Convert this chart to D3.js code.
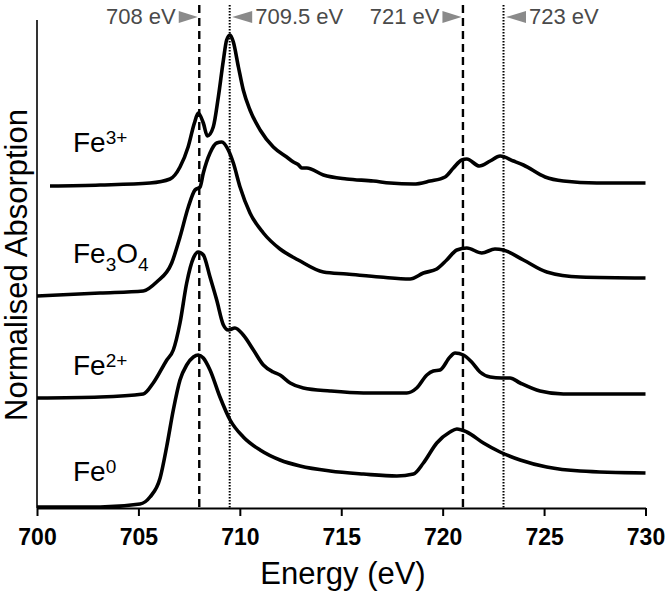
<!DOCTYPE html>
<html><head><meta charset="utf-8">
<script src="https://cdn.jsdelivr.net/npm/d3@7"></script>
<style>body{margin:0;background:#fff;} svg{display:block;font-family:"Liberation Sans",Arial,Helvetica,sans-serif;}</style>
</head><body><svg id="c" width="666" height="595"></svg>
<script>
// ---------- data ----------
const xTicks = [700, 705, 710, 715, 720, 725, 730];

const fe3Energy = [700.64,703.11,705.57,706.56,707.05,707.45,707.76,707.95,708.20,708.40,708.69,708.94,709.19,709.35,709.52,709.68,709.93,710.17,710.50,711.00,711.65,712.31,712.64,712.90,713.05,713.30,714.12,715.27,716.58,717.41,718.56,719.38,720.12,720.53,720.94,721.19,721.81,722.34,722.83,723.49,723.98,725.05,725.95,727.60,730.0];
const fe3Abs    = [3.22,3.23,3.25,3.29,3.41,3.61,3.85,3.95,3.85,3.72,3.81,4.11,4.48,4.68,4.73,4.66,4.41,4.18,3.98,3.78,3.61,3.51,3.46,3.43,3.40,3.40,3.33,3.29,3.27,3.25,3.24,3.27,3.31,3.40,3.48,3.49,3.42,3.47,3.52,3.47,3.43,3.31,3.27,3.25,3.25];

const fe3o4Energy = [700.0,703.11,705.24,705.90,706.64,707.05,707.46,707.79,708.04,708.20,708.53,708.86,709.11,709.43,709.68,710.01,710.50,711.16,711.98,712.88,714.12,715.27,716.91,718.39,719.05,719.71,720.20,720.70,721.19,721.93,722.58,722.99,723.98,725.13,726.78,730.0];
const fe3o4Abs    = [2.12,2.15,2.17,2.26,2.45,2.71,3.01,3.18,3.21,3.35,3.55,3.65,3.66,3.58,3.45,3.21,2.95,2.75,2.59,2.48,2.36,2.34,2.31,2.29,2.35,2.39,2.48,2.58,2.60,2.55,2.59,2.58,2.48,2.36,2.31,2.30];

const fe2Energy = [700.0,703.11,705.24,705.73,706.40,706.72,707.05,707.38,707.71,707.95,708.20,708.53,708.86,709.19,709.43,709.76,710.17,710.67,711.16,711.65,711.98,712.48,713.13,714.45,716.09,718.23,718.72,719.22,719.54,719.87,720.36,720.61,721.02,721.43,721.84,722.34,722.91,723.32,723.82,724.80,725.95,730.0];
const fe2Abs    = [1.10,1.11,1.14,1.25,1.48,1.58,1.85,2.25,2.50,2.56,2.53,2.31,2.08,1.83,1.78,1.80,1.73,1.58,1.43,1.36,1.33,1.25,1.20,1.17,1.15,1.15,1.20,1.33,1.37,1.38,1.51,1.55,1.53,1.46,1.36,1.31,1.30,1.30,1.25,1.17,1.14,1.14];

const fe0Energy = [700.0,703.11,705.08,705.57,706.07,706.40,706.72,707.05,707.38,707.71,707.95,708.20,708.53,709.02,709.52,710.17,711.00,711.98,712.97,714.45,716.09,717.74,718.56,719.05,719.71,720.36,720.70,721.19,722.01,722.83,723.82,725.13,726.78,730.0];
const fe0Abs    = [0.01,0.01,0.04,0.11,0.30,0.62,0.98,1.28,1.43,1.51,1.53,1.50,1.38,1.11,0.88,0.71,0.58,0.48,0.42,0.37,0.34,0.32,0.34,0.45,0.65,0.76,0.79,0.76,0.65,0.56,0.48,0.41,0.37,0.35];

const refEnergies = [708, 709.5, 721, 723];
const refLabels   = ["708 eV", "709.5 eV", "721 eV", "723 eV"];

// ---------- layout ----------
const svg = d3.select("#c");
const x = d3.scaleLinear().domain([700, 730]).range([37, 645.5]);
const y = d3.scaleLinear().domain([0, 4.88]).range([508, 20]);

// reference lines
refEnergies.forEach((e, i) => {
  const dashed = (i % 2 === 0);
  svg.append("line")
    .attr("x1", x(e)).attr("x2", x(e))
    .attr("y1", 5).attr("y2", y(0))
    .attr("stroke", "#000")
    .attr("stroke-width", dashed ? 2.4 : 2)
    .attr("stroke-dasharray", dashed ? "8,5" : "1.5,1.5");
});

// arrows + labels
const annoY = 17;
refEnergies.forEach((e, i) => {
  const px = x(e);
  const pointsRight = (i % 2 === 0);
  const tip = pointsRight ? px - 1.5 : px + 2.5;
  const base = pointsRight ? tip - 19 : tip + 20;
  svg.append("path")
    .attr("d", `M${tip},${annoY} L${base},${annoY - 6} L${base},${annoY + 6} Z`)
    .attr("fill", "#8a8a8a");
  svg.append("text")
    .attr("x", pointsRight ? base - 3 : base + 3)
    .attr("y", 23.5)
    .attr("text-anchor", pointsRight ? "end" : "start")
    .attr("font-size", 22)
    .attr("fill", "#4a4a4a")
    .text(refLabels[i]);
});

// curves
const line = d3.line().x(d => x(d[0])).y(d => y(d[1])).curve(d3.curveMonotoneX);
const seriesList = [
  [fe3Energy, fe3Abs],
  [fe3o4Energy, fe3o4Abs],
  [fe2Energy, fe2Abs],
  [fe0Energy, fe0Abs]
];
seriesList.forEach(([en, ab]) => {
  svg.append("path")
    .datum(d3.zip(en, ab))
    .attr("d", line)
    .attr("fill", "none")
    .attr("stroke", "#000")
    .attr("stroke-width", 3.6)
    .attr("stroke-linejoin", "round")
    .attr("stroke-linecap", "butt");
});

// axes
const xAxis = d3.axisBottom(x).tickValues(xTicks).tickSize(8).tickSizeOuter(0).tickFormat(d3.format("d"));
const gx = svg.append("g").attr("transform", `translate(0,${y(0)})`).call(xAxis);
gx.select(".domain").attr("stroke", "#000").attr("stroke-width", 2);
gx.selectAll(".tick line").attr("stroke", "#000").attr("stroke-width", 2);
gx.selectAll(".tick text").attr("font-size", 23).attr("font-weight", "bold").attr("fill", "#000")
  .attr("font-family", '"Liberation Sans",Arial,sans-serif').attr("y", 0).attr("dy", 0)
  .attr("transform", "translate(0,37)");

svg.append("line").attr("x1", x(700)).attr("x2", x(700)).attr("y1", 20).attr("y2", y(0))
  .attr("stroke", "#000").attr("stroke-width", 1.6);

svg.append("text").attr("x", 343).attr("y", 584).attr("text-anchor", "middle")
  .attr("font-size", 31).text("Energy (eV)");
svg.append("text").attr("transform", "translate(27,265) rotate(-90)").attr("text-anchor", "middle")
  .attr("font-size", 31).text("Normalised Absorption");

// series labels
function label(yb, parts) {
  const t = svg.append("text").attr("x", 73).attr("y", yb).attr("font-size", 28);
  let shift = 0;
  parts.forEach(([s, k]) => {
    const target = k === "sup" ? -8 : k === "sub" ? 8 : 0;
    t.append("tspan").attr("dy", target - shift)
      .attr("font-size", k ? 19 : 28).text(s);
    shift = target;
  });
}
label(152, [["Fe", ""], ["3+", "sup"]]);
label(263, [["Fe", ""], ["3", "sub"], ["O", ""], ["4", "sub"]]);
label(375, [["Fe", ""], ["2+", "sup"]]);
label(481, [["Fe", ""], ["0", "sup"]]);
</script></body></html>
